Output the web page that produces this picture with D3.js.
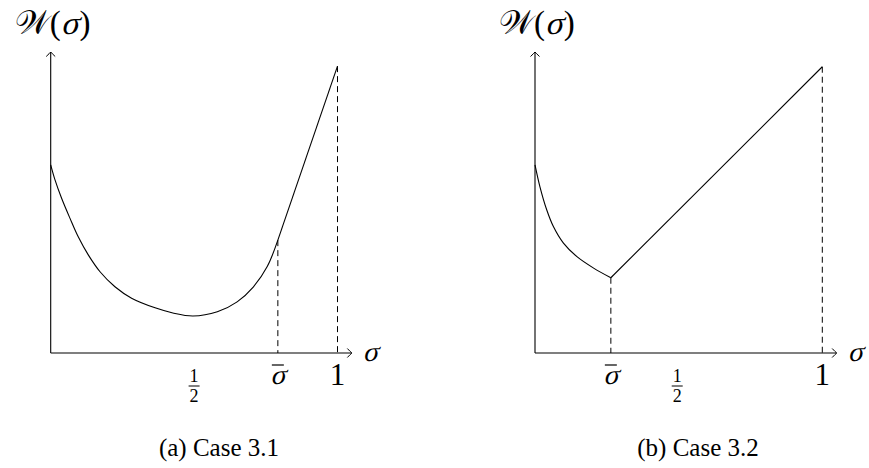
<!DOCTYPE html>
<html>
<head>
<meta charset="utf-8">
<script src="https://cdn.jsdelivr.net/npm/d3@7"></script>
<style>
  html, body { margin: 0; padding: 0; background: #fff; }
</style>
</head>
<body>
<svg id="chart" width="869" height="468"></svg>
<script>
// Case 3.1: convex welfare curve down to a minimum at 1/2, then linear after sigma-bar
const sigmaA = [0, 0.015, 0.038, 0.067, 0.096, 0.131, 0.172, 0.224, 0.282, 0.364, 0.426, 0.496, 0.581, 0.650, 0.707, 0.755, 0.792];
const welfareA = [0.625, 0.575, 0.514, 0.448, 0.386, 0.326, 0.270, 0.220, 0.182, 0.150, 0.133, 0.123, 0.137, 0.170, 0.220, 0.287, 0.375];
const linearA = [[0.792, 0.375], [1, 0.953]];
const sigmaBarA = 0.792;

// Case 3.2: curve falls to a kink at sigma-bar, then rises linearly to sigma = 1
const sigmaB = [0, 0.017, 0.041, 0.064, 0.099, 0.146, 0.204, 0.264];
const welfareB = [0.625, 0.553, 0.475, 0.420, 0.365, 0.320, 0.282, 0.250];
const linearB = [[0.264, 0.250], [1, 0.951]];
const sigmaBarB = 0.264;

const captions = ["(a) Case 3.1", "(b) Case 3.2"];
const yLabelParts = ["\u{1D4B2}(", "\u03C3", ")"];
const xLabel = "\u03C3";

// pick the first installed serif face by comparing rendered widths
function pickFont(candidates) {
  const ctx = document.createElement("canvas").getContext("2d");
  const probe = "mmmmmmmmmmlli WQ(a) Case 3.1";
  for (const name of candidates) {
    for (const base of ["monospace", "sans-serif"]) {
      ctx.font = `40px ${base}`;
      const w0 = ctx.measureText(probe).width;
      ctx.font = `40px '${name}', ${base}`;
      if (Math.abs(ctx.measureText(probe).width - w0) > 0.5) return `'${name}'`;
    }
  }
  return "serif";
}
const FONT = pickFont(["Liberation Serif", "DejaVu Serif", "Tinos", "Noto Serif", "Times New Roman", "FreeSerif"]);

const svg = d3.select("#chart");

const y = d3.scaleLinear().domain([0, 1]).range([353, 52]);

const panels = [
  { x: d3.scaleLinear().domain([0, 1]).range([50.7, 337.5]),
    sig: sigmaA, w: welfareA, lin: linearA, bar: sigmaBarA, half: 0.5, caption: captions[0], capX: 219 },
  { x: d3.scaleLinear().domain([0, 1]).range([535, 822.3]),
    sig: sigmaB, w: welfareB, lin: linearB, bar: sigmaBarB, half: 0.495, caption: captions[1], capX: 698 }
];

function arrowRight(g, tx, ty) {
  g.append("path")
    .attr("d", `M${tx-4.5},${ty-4.5} Q${tx-1.2},${ty-1} ${tx},${ty} Q${tx-1.2},${ty+1} ${tx-4.5},${ty+4.5}`)
    .attr("fill", "none").attr("stroke", "#000").attr("stroke-width", 1);
}
function arrowUp(g, tx, ty) {
  g.append("path")
    .attr("d", `M${tx-4.5},${ty+4.5} Q${tx-1},${ty+1.2} ${tx},${ty} Q${tx+1},${ty+1.2} ${tx+4.5},${ty+4.5}`)
    .attr("fill", "none").attr("stroke", "#000").attr("stroke-width", 1);
}

// text helper; slanted text is drawn with a skew so math symbols read as italic
function label(g, x, yy, size, txt, slant, anchor) {
  const t = g.append("text")
    .style("font-family", FONT)
    .attr("font-size", size)
    .attr("fill", "#000")
    .attr("text-anchor", anchor || "start")
    .text(txt);
  if (slant) {
    t.attr("x", 0).attr("y", 0).attr("transform", `translate(${x},${yy}) skewX(-14)`);
  } else {
    t.attr("x", x).attr("y", yy);
  }
  return t;
}

panels.forEach(p => {
  const g = svg.append("g");
  const x = p.x;
  const x0 = x(0), y0 = y(0);

  // axes
  const xEnd = x(1.05), yEnd = y(1);
  g.append("line").attr("x1", x0).attr("y1", y0).attr("x2", xEnd).attr("y2", y0)
    .attr("stroke", "#000").attr("stroke-width", 1.1);
  g.append("line").attr("x1", x0).attr("y1", y0).attr("x2", x0).attr("y2", yEnd)
    .attr("stroke", "#000").attr("stroke-width", 1.1);
  arrowRight(g, xEnd, y0);
  arrowUp(g, x0, yEnd);

  // dashed guides at sigma-bar and sigma = 1
  const pts = p.sig.map((s, i) => [s, p.w[i]]);
  [[p.bar, p.lin[0][1]], [1, p.lin[1][1]]].forEach(([s, v]) => {
    g.append("line").attr("x1", x(s)).attr("x2", x(s)).attr("y1", y(v)).attr("y2", y0)
      .attr("stroke", "#000").attr("stroke-width", 1).attr("stroke-dasharray", "6,4");
  });

  // curved part
  g.append("path").datum(pts)
    .attr("d", d3.line().x(d => x(d[0])).y(d => y(d[1])).curve(d3.curveCatmullRom.alpha(0.5)))
    .attr("fill", "none").attr("stroke", "#000").attr("stroke-width", 1.1);
  // linear part
  g.append("path").datum(p.lin)
    .attr("d", d3.line().x(d => x(d[0])).y(d => y(d[1])))
    .attr("fill", "none").attr("stroke", "#000").attr("stroke-width", 1.1);

  // axis label W(σ): pieces laid out left to right, σ slanted
  let cx = x0 - 36;
  yLabelParts.forEach((part, i) => {
    const t = label(g, cx, 34, 33, part, i === 1);
    cx += t.node().getComputedTextLength() + (i === 1 ? 1 : 0);
  });
  label(g, xEnd + 11, y0 + 8, 28, xLabel, true);

  // tick labels: sigma-bar, 1/2, 1
  const bx = x(p.bar);
  label(g, bx, 384, 28, "\u03C3", true, "middle");
  g.append("line").attr("x1", bx - 6).attr("x2", bx + 6).attr("y1", 365).attr("y2", 365)
    .attr("stroke", "#000").attr("stroke-width", 1.2);

  const hx = x(p.half);
  label(g, hx, 382, 18, "1", false, "middle");
  g.append("line").attr("x1", hx - 5.5).attr("x2", hx + 5.5).attr("y1", 386).attr("y2", 386)
    .attr("stroke", "#000").attr("stroke-width", 1);
  label(g, hx, 402, 18, "2", false, "middle");

  label(g, x(1), 385, 31, "1", false, "middle");

  // caption
  label(g, p.capX, 456, 25, p.caption, false, "middle");
});
</script>
</body>
</html>
